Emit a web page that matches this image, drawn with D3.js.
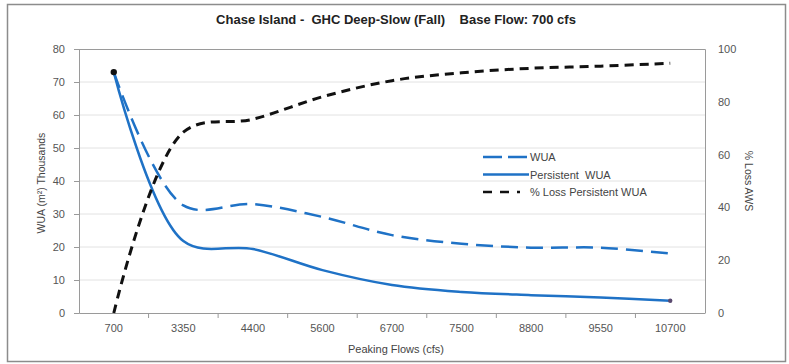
<!DOCTYPE html>
<html>
<head>
<meta charset="utf-8">
<script src="https://cdn.jsdelivr.net/npm/d3@7"></script>
<style>
  html, body { margin: 0; padding: 0; background: #fff; }
  svg { display: block; font-family: "Liberation Sans", Arial, sans-serif; }
  text { white-space: pre; }
</style>
</head>
<body>
<svg id="chart" width="789" height="364"></svg>
<script>
// Peaking flow categories (cfs)
const flows = ["700", "3350", "4400", "5600", "6700", "7500", "8800", "9550", "10700"];
// Weighted usable area, thousands of m²
const wua = [73, 32.6, 33, 29.1, 23.6, 21, 19.8, 19.8, 18];
const persistentWua = [73, 21.8, 19.4, 13, 8.5, 6.4, 5.4, 4.7, 3.7];
// Percent loss of persistent WUA (right axis)
const pctLoss = [0, 68.5, 73.4, 81.9, 88, 91, 92.7, 93.5, 94.6];
// Axis tick values
const leftTicks = [0, 10, 20, 30, 40, 50, 60, 70, 80];
const rightTicks = [0, 20, 40, 60, 80, 100];

const svg = d3.select("#chart");
const plot = { left: 79, right: 705, top: 49, bottom: 313 };
const blue = "#1f72c6";

// Outer frame
svg.append("rect")
  .attr("x", 7.5).attr("y", 4.5).attr("width", 778).attr("height", 357)
  .attr("fill", "#fff").attr("stroke", "#8c8c8c").attr("stroke-width", 1.5);

const x = d3.scaleBand().domain(flows).range([plot.left, plot.right]).padding(0);
const yL = d3.scaleLinear().domain([0, 80]).range([plot.bottom, plot.top]);
const yR = d3.scaleLinear().domain([0, 100]).range([plot.bottom, plot.top]);
const cx = d => x(d) + x.bandwidth() / 2;

// Horizontal gridlines
svg.append("g").selectAll("line").data(leftTicks.filter(t => t > 0 && t < 80)).join("line")
  .attr("x1", plot.left).attr("x2", plot.right)
  .attr("y1", d => yL(d)).attr("y2", d => yL(d))
  .attr("stroke", "#e2e2e2").attr("stroke-width", 1);

// Plot border (top and right)
svg.append("path")
  .attr("d", `M${plot.left},${plot.top + 0.5}H${plot.right + 0.5}V${plot.bottom}`)
  .attr("fill", "none").attr("stroke", "#9a9a9a").attr("stroke-width", 1);

// Left axis
const gL = svg.append("g").attr("transform", `translate(${plot.left},0)`)
  .call(d3.axisLeft(yL).tickValues(leftTicks).tickSize(5).tickPadding(9));
gL.select(".domain").attr("stroke", "#9a9a9a");
gL.selectAll(".tick line").attr("stroke", "#9a9a9a");
gL.selectAll("text").attr("fill", "#555").attr("font-size", 11).attr("font-family", "Liberation Sans, Arial");

// Right axis
const gR = svg.append("g").attr("transform", `translate(${plot.right},0)`)
  .call(d3.axisRight(yR).tickValues(rightTicks).tickSize(0).tickPadding(13));
gR.select(".domain").attr("stroke", "none");
gR.selectAll("text").attr("fill", "#555").attr("font-size", 11).attr("font-family", "Liberation Sans, Arial");

// Bottom axis: tick marks at category boundaries
const gB = svg.append("g").attr("transform", `translate(0,${plot.bottom})`)
  .call(d3.axisBottom(x).tickSize(0).tickPadding(11));
gB.select(".domain").attr("stroke", "#9a9a9a");
gB.selectAll("text").attr("fill", "#555").attr("font-size", 11).attr("font-family", "Liberation Sans, Arial");
gB.selectAll("line.sep").data(flows.slice(1)).join("line").attr("class", "sep")
  .attr("x1", d => x(d)).attr("x2", d => x(d)).attr("y1", 0).attr("y2", 5)
  .attr("stroke", "#9a9a9a");

// Series lines
const smooth = d3.curveCatmullRom.alpha(0.5);
const lineL = d3.line().x((d, i) => cx(flows[i])).y(d => yL(d)).curve(smooth);
const lineR = d3.line().x((d, i) => cx(flows[i])).y(d => yR(d)).curve(smooth);

svg.append("path").datum(wua).attr("d", lineL)
  .attr("fill", "none").attr("stroke", blue).attr("stroke-width", 2.5)
  .attr("stroke-dasharray", "17,8");
svg.append("path").datum(persistentWua).attr("d", lineL)
  .attr("fill", "none").attr("stroke", blue).attr("stroke-width", 2.5);
svg.append("path").datum(pctLoss).attr("d", lineR)
  .attr("fill", "none").attr("stroke", "#111").attr("stroke-width", 3)
  .attr("stroke-dasharray", "9,6");

// Point markers at start and end
svg.append("circle").attr("cx", cx(flows[0])).attr("cy", yL(wua[0])).attr("r", 3.2).attr("fill", "#111");
svg.append("circle").attr("cx", cx(flows[flows.length - 1])).attr("cy", yL(persistentWua[persistentWua.length - 1]))
  .attr("r", 2.2).attr("fill", "#5a4a70");

// Legend
const legend = [
  { label: "WUA", color: blue, dash: "19,6", w: 2.5, len: 46 },
  { label: "Persistent  WUA", color: blue, dash: null, w: 2.5, len: 46 },
  { label: "% Loss Persistent WUA", color: "#111", dash: "9,8", w: 2.5, len: 37 }
];
const lg = svg.append("g").attr("transform", "translate(483,157)");
legend.forEach((d, i) => {
  const row = lg.append("g").attr("transform", `translate(0,${i * 17.5})`);
  row.append("line").attr("x1", 0).attr("x2", d.len).attr("y1", 0).attr("y2", 0)
    .attr("stroke", d.color).attr("stroke-width", d.w)
    .attr("stroke-dasharray", d.dash);
  row.append("text").attr("x", 47).attr("y", 4).text(d.label)
    .attr("font-size", 11).attr("fill", "#444");
});

// Titles
svg.append("text").attr("x", 396).attr("y", 24).attr("text-anchor", "middle")
  .attr("font-size", 13).attr("font-weight", "bold").attr("fill", "#222")
  .text("Chase Island -  GHC Deep-Slow (Fall)    Base Flow: 700 cfs");

svg.append("text").attr("x", 396).attr("y", 353).attr("text-anchor", "middle")
  .attr("font-size", 11).attr("fill", "#444").text("Peaking Flows (cfs)");

svg.append("text").attr("transform", "translate(45,183) rotate(-90)")
  .attr("text-anchor", "middle").attr("font-size", 10.5).attr("fill", "#444")
  .text("WUA (m²) Thousands");

svg.append("text").attr("transform", "translate(745,181) rotate(90)")
  .attr("text-anchor", "middle").attr("font-size", 10.5).attr("fill", "#444")
  .text("% Loss AWS");
</script>
</body>
</html>
